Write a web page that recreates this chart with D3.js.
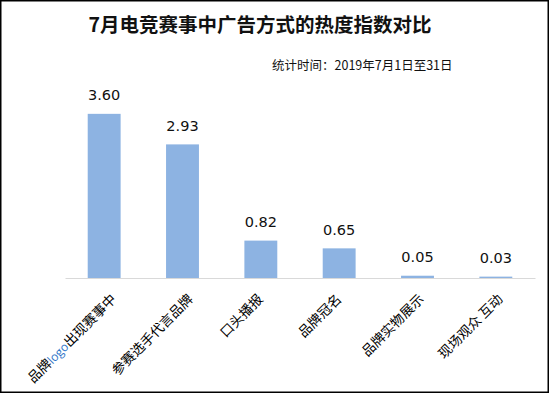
<!DOCTYPE html>
<html><head><meta charset="utf-8">
<script src="https://cdn.jsdelivr.net/npm/d3@7"></script>
<style>html,body{margin:0;padding:0;background:#fff;}svg{display:block;}</style>
</head><body>
<script>
const categories = ["品牌logo出现赛事中","参赛选手代言品牌","口头播报","品牌冠名","品牌实物展示","现场观众 互动"];
const values = [3.60, 2.93, 0.82, 0.65, 0.05, 0.03];
const valueLabels = ["3.60","2.93","0.82","0.65","0.05","0.03"];
const title = "7月电竞赛事中广告方式的热度指数对比";
const subtitle = "统计时间：2019年7月1日至31日";

const W = 550, H = 394;
const svg = d3.select("body").append("svg").attr("width", W).attr("height", H);
svg.append("rect").attr("x",0.75).attr("y",0.75).attr("width",547.5).attr("height",391.5)
  .attr("fill","#fff").attr("stroke","#000").attr("stroke-width",1.5);

const cjk = "'Noto Sans CJK SC','Microsoft YaHei',sans-serif";
svg.append("text").attr("x",260).attr("y",32).attr("text-anchor","middle")
  .attr("font-family",cjk).attr("font-weight","bold").attr("font-size",19.5).attr("fill","#111").text(title);
svg.append("text").attr("x",272).attr("y",70)
  .attr("font-family",cjk).attr("font-size",12.5).attr("fill","#111").text(subtitle);

const x = d3.scaleBand().domain(categories).range([65,535]).paddingInner(0.58).paddingOuter(0.29);
const y = d3.scaleLinear().domain([0,4]).range([278, 95.6]);

svg.selectAll("rect.bar").data(values).enter().append("rect").attr("class","bar")
  .attr("x",(d,i)=>x(categories[i])).attr("width",x.bandwidth())
  .attr("y",d=>y(d)).attr("height",d=>y(0)-y(d)).attr("fill","#8db3e2");

const axis = d3.axisBottom(x).tickSize(0).tickFormat("");
const ag = svg.append("g").attr("transform",`translate(0,${y(0)})`).call(axis);
ag.select(".domain").attr("stroke","#d9d9d9").attr("stroke-width",1.2);

svg.selectAll("text.val").data(values).enter().append("text").attr("class","val")
  .attr("x",(d,i)=>x(categories[i])+x.bandwidth()/2).attr("y",d=>y(d)-13.5)
  .attr("text-anchor","middle").attr("font-family","'DejaVu Sans',Verdana,sans-serif")
  .attr("font-size",14.5).attr("fill","#111").text((d,i)=>valueLabels[i]);

categories.forEach((c,i)=>{
  const cx = x(c)+x.bandwidth()/2;
  const t = svg.append("text").attr("font-family",cjk).attr("font-size",13.5).attr("fill","#000")
    .attr("text-anchor","end");
  const m = c.match(/^(.*?)(logo)(.*)$/);
  if (m) {
    t.append("tspan").text(m[1]);
    t.append("tspan").attr("fill","#2e75c8").attr("font-family","'Open Sans','DejaVu Sans',sans-serif")
      .attr("font-size",12).text(m[2]);
    t.append("tspan").text(m[3]);
  } else t.text(c);
  const len = t.node().getComputedTextLength();
  const off = Math.max(0,(len-34)/6.5);
  t.attr("transform",`translate(${cx+off},${300}) rotate(-45)`);
});
</script>
</body></html>
